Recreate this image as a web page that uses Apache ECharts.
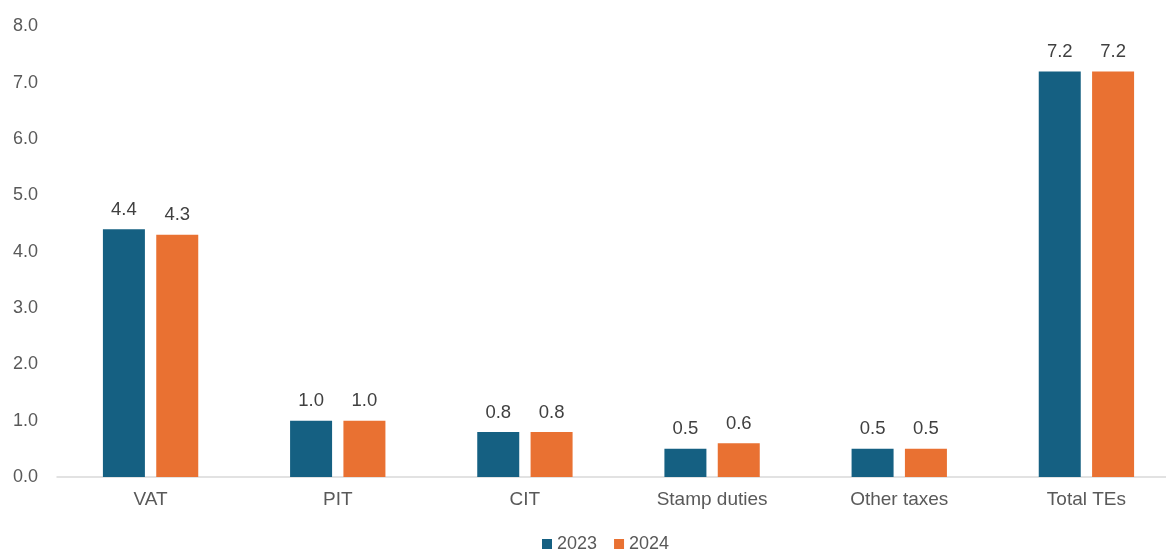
<!DOCTYPE html>
<html>
<head>
<meta charset="utf-8">
<script src="https://cdn.jsdelivr.net/npm/echarts@6/dist/echarts.min.js"></script>
<style>
  html, body { margin: 0; padding: 0; background: #fff; }
  #bar-chart { width: 1166px; height: 552px; }
</style>
</head>
<body>
<div id="bar-chart"></div>
<script>
// chart data
const categories = ['VAT', 'PIT', 'CIT', 'Stamp duties', 'Other taxes', 'Total TEs']
const values2023 = [4.4, 1.0, 0.8, 0.5, 0.5, 7.2]
const values2024 = [4.3, 1.0, 0.8, 0.6, 0.5, 7.2]
const yTicks = [0, 1, 2, 3, 4, 5, 6, 7, 8]

const font = 'Arial, "Liberation Sans", sans-serif'

let chart = echarts.init(document.getElementById('bar-chart'))

function makeSeries(name, data, color) {
  return {
    name: name,
    type: 'bar',
    data: data,
    barWidth: 42,
    barGap: '27%',
    itemStyle: { color: color },
    label: {
      show: true,
      position: 'top',
      distance: 10,
      color: '#404040',
      fontSize: 18.5,
      fontFamily: font,
      formatter: p => p.value.toFixed(1)
    }
  }
}

const option = {
  animation: false,
  textStyle: { fontFamily: font },
  // plot area runs a little past the right edge of the canvas
  grid: {
    left: 57, width: 1123, top: 26.5, height: 450.5,
    containLabel: false,
    outerBoundsMode: 'none'
  },
  legend: {
    data: ['2023', '2024'],
    top: 530,
    left: 537,
    icon: 'rect',
    itemWidth: 10,
    itemHeight: 10,
    itemGap: 17,
    textStyle: { color: '#595959', fontSize: 18, fontFamily: font }
  },
  xAxis: {
    type: 'category',
    data: categories,
    axisLine: { lineStyle: { color: '#d9d9d9', width: 1.5 } },
    axisTick: { show: false },
    axisLabel: { color: '#595959', fontSize: 19, fontFamily: font, margin: 13 }
  },
  yAxis: {
    type: 'value',
    min: yTicks[0],
    max: yTicks[yTicks.length - 1],
    interval: 1,
    axisLine: { show: false },
    axisTick: { show: false },
    splitLine: { show: false },
    axisLabel: {
      color: '#595959',
      fontSize: 18,
      fontFamily: font,
      align: 'left',
      margin: 44,
      formatter: v => v.toFixed(1)
    }
  },
  series: [
    makeSeries('2023', values2023, '#156082'),
    makeSeries('2024', values2024, '#E97132')
  ]
}

chart.setOption(option)
</script>
</body>
</html>
